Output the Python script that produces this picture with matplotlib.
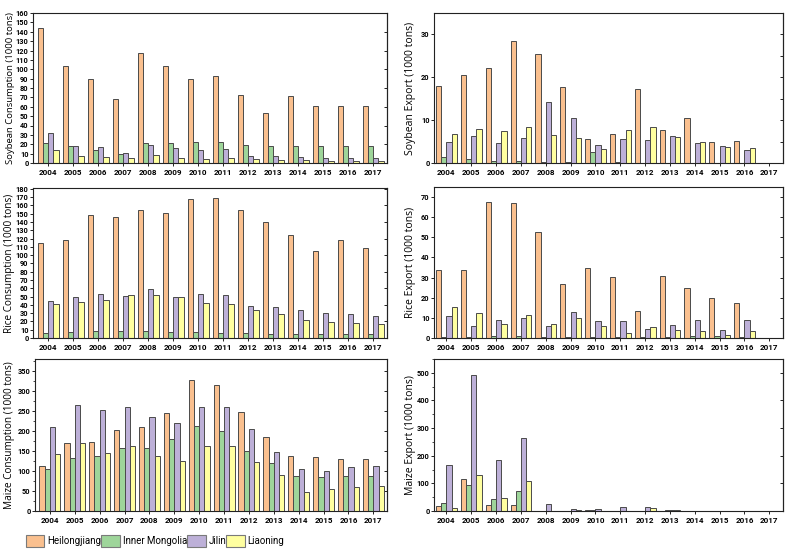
import matplotlib
matplotlib.use("Agg")
import matplotlib.pyplot as plt
import numpy as np
from matplotlib.patches import Patch
from matplotlib.ticker import MultipleLocator

years = [str(y) for y in range(2004, 2018)]
provinces = ["Heilongjiang", "Inner Mongolia", "Jilin", "Liaoning"]
colors = ["#FAC08F", "#9ED59A", "#BDB0D8", "#FFFFA0"]

# Soybean consumption (1000 tons)
soy_cons_hlj = [144, 104, 90, 68.7, 117.5, 104, 89.5, 92.7, 72.5, 53.5, 72, 60.5, 60.5, 60.5]
soy_cons_im = [21, 18, 13.5, 9.5, 21.5, 21, 22.5, 22.5, 19.5, 17.7, 17.7, 17.7, 17.7, 17.7]
soy_cons_jl = [32.5, 18.5, 17, 11, 19, 16, 14, 15, 7, 7, 6.5, 5.3, 5.3, 5.3]
soy_cons_ln = [14, 7, 6.5, 5.5, 9, 5.5, 4.5, 5.5, 4.5, 3.5, 3, 2.5, 2.5, 2.5]

# Soybean export (1000 tons)
soy_exp_hlj = [18, 20.6, 22.2, 28.5, 25.5, 17.7, 5.6, 6.7, 17.3, 7.8, 10.4, 4.9, 5.1, 0]
soy_exp_im = [1.5, 0.9, 0.5, 0.5, 0.3, 0.2, 2.6, 0.2, 0.05, 0.05, 0.05, 0.05, 0.05, 0]
soy_exp_jl = [4.8, 6.4, 4.6, 5.8, 14.2, 10.4, 4.1, 5.6, 5.3, 6.2, 4.6, 3.9, 3.1, 0]
soy_exp_ln = [6.7, 8, 7.4, 8.5, 6.5, 5.8, 3.2, 7.6, 8.5, 6.0, 4.8, 3.7, 3.4, 0]

# Rice consumption (1000 tons)
rice_cons_hlj = [114.5, 118, 148, 146, 155, 150.5, 167.5, 169, 154, 140, 124, 104.5, 117.7, 108]
rice_cons_im = [6.5, 7.3, 8.5, 8.9, 8.5, 7.3, 7.3, 6.5, 6, 4.5, 4.5, 4.5, 4.5, 4.5]
rice_cons_jl = [44.5, 49.8, 52.6, 51, 58.7, 50, 52.6, 52, 39, 37, 33.5, 30.3, 29, 26.7]
rice_cons_ln = [41, 43.7, 46, 51.4, 51.4, 49, 42, 41, 34, 29, 22, 19.8, 18.6, 17.4]

# Rice export (1000 tons)
rice_exp_hlj = [33.8, 34, 67.5, 66.9, 52.5, 26.9, 35, 30.1, 13.5, 30.8, 24.8, 19.9, 17.5, 0]
rice_exp_im = [0.3, 0.6, 1, 1, 0.3, 0.6, 0.6, 0.6, 0.6, 0.6, 0.8, 0.8, 0.6, 0]
rice_exp_jl = [10.9, 5.9, 8.7, 9.9, 5.9, 12.8, 8.2, 8.6, 4.4, 6.4, 9, 4, 8.7, 0]
rice_exp_ln = [15.5, 12.2, 7.2, 11.4, 6.9, 9.9, 5.8, 2.5, 5.4, 4, 3.3, 1.5, 3.5, 0]

# Maize consumption (1000 tons)
maize_cons_hlj = [112.5, 171, 172, 203, 209, 246, 328, 316, 248, 186, 137.5, 136, 131, 129]
maize_cons_im = [104, 133, 137, 158, 158, 179, 213, 200, 150, 119, 88, 84, 87, 87]
maize_cons_jl = [209, 265, 253, 259, 236, 221, 261, 261, 206, 148, 105, 100, 111, 112.5]
maize_cons_ln = [142, 170, 146, 163, 137, 125, 163, 163, 122.5, 90, 48, 54, 60, 62]

# Maize export (1000 tons)
maize_exp_hlj = [17, 114, 21, 21, 0.5, 0.3, 2, 0.3, 0.3, 0.5, 0.3, 0.3, 0.3, 0]
maize_exp_im = [29, 94, 44, 74, 0.3, 0.3, 2, 0.3, 0.3, 2, 0.3, 0.3, 0.3, 0]
maize_exp_jl = [168, 491, 185, 265, 25, 9, 9, 14, 14, 3, 0.3, 0.3, 0.3, 0]
maize_exp_ln = [11, 130, 46, 108, 0.5, 3, 0.5, 0.3, 11, 2, 0.3, 0.3, 0.3, 0]

W, H = 789, 556
fig = plt.figure(figsize=(W / 100, H / 100), dpi=100)

FONT = ["Open Sans", "DejaVu Sans"]
TICKFONT = ["Roboto", "DejaVu Sans"]


def px_axes(x0, x1, ytop, ybot):
    return fig.add_axes([x0 / W, 1 - ybot / H, (x1 - x0) / W, (ybot - ytop) / H])


def panel(rect, series, ylabel, ymax, major, minor, xlim, right_step, ylsize, label_x):
    ax = px_axes(*rect)
    x = np.arange(len(years))
    bw = 0.21
    offs = (np.arange(4) - 1.5) * bw
    for s, c, o in zip(series, colors, offs):
        ax.bar(x + o, s, bw, color=c, edgecolor="#4a4a4a", linewidth=0.7, zorder=2)
    ax.set_xlim(*xlim)
    ax.set_ylim(0, ymax)
    ax.set_xticks(x)
    ax.set_xticklabels(years, fontsize=5.8, fontweight="bold", family=TICKFONT)
    ax.yaxis.set_major_locator(MultipleLocator(major))
    if minor:
        ax.yaxis.set_minor_locator(MultipleLocator(minor))
    ax.tick_params(axis="y", labelsize=5.3, length=2, width=0.6, pad=1.2)
    ax.tick_params(axis="y", which="minor", length=1.3, width=0.5)
    ax.tick_params(axis="x", length=2.5, width=0.6, pad=2)
    for lab in ax.get_yticklabels():
        lab.set_fontweight("bold")
        lab.set_family(TICKFONT)
    ax.set_ylabel(ylabel, fontsize=ylsize, family=FONT)
    # put the label's right edge at a fixed pixel column
    ax.yaxis.set_label_coords((label_x - rect[0]) / (rect[1] - rect[0]), 0.5)
    for sp in ax.spines.values():
        sp.set_linewidth(0.8)
        sp.set_color("#222222")
    sec = ax.secondary_yaxis("right")
    sec.yaxis.set_major_locator(MultipleLocator(right_step))
    sec.tick_params(direction="in", length=2.5, width=0.6, labelright=False)
    return ax


panel((33, 387, 13, 163), [soy_cons_hlj, soy_cons_im, soy_cons_jl, soy_cons_ln],
      "Soybean Consumption (1000 tons)", 160, 10, None, (-0.6, 13.55), 20, 6.8, 15)
panel((434, 783, 13, 163), [soy_exp_hlj, soy_exp_im, soy_exp_jl, soy_exp_ln],
      "Soybean Export (1000 tons)", 35, 10, None, (-0.5, 13.55), 5, 7.5, 416)
panel((33, 387, 188, 338), [rice_cons_hlj, rice_cons_im, rice_cons_jl, rice_cons_ln],
      "Rice Consumption (1000 tons)", 181, 10, None, (-0.6, 13.55), 20, 7.2, 15)
panel((434, 783, 187, 338), [rice_exp_hlj, rice_exp_im, rice_exp_jl, rice_exp_ln],
      "Rice Export (1000 tons)", 75, 10, None, (-0.5, 13.55), 10, 7.5, 416)
panel((35, 387, 359, 511), [maize_cons_hlj, maize_cons_im, maize_cons_jl, maize_cons_ln],
      "Maize Consumption (1000 tons)", 380, 50, 25, (-0.6, 13.55), 50, 7.2, 15)
panel((434, 783, 359, 511), [maize_exp_hlj, maize_exp_im, maize_exp_jl, maize_exp_ln],
      "Maize Export (1000 tons)", 550, 100, 50, (-0.5, 13.55), 100, 7.5, 416)

handles = [Patch(facecolor=c, edgecolor="#7a7a7a", linewidth=0.8) for c in colors]
fig.legend(handles, provinces, loc="center left", bbox_to_anchor=(22 / W, 1 - 541 / H),
           ncol=4, frameon=False, handlelength=1.9, handleheight=1.5,
           handletextpad=0.3, columnspacing=0.0, borderaxespad=0,
           prop={"family": ["Roboto", "DejaVu Sans"], "size": 7})

fig.savefig("out.png", dpi=100)
